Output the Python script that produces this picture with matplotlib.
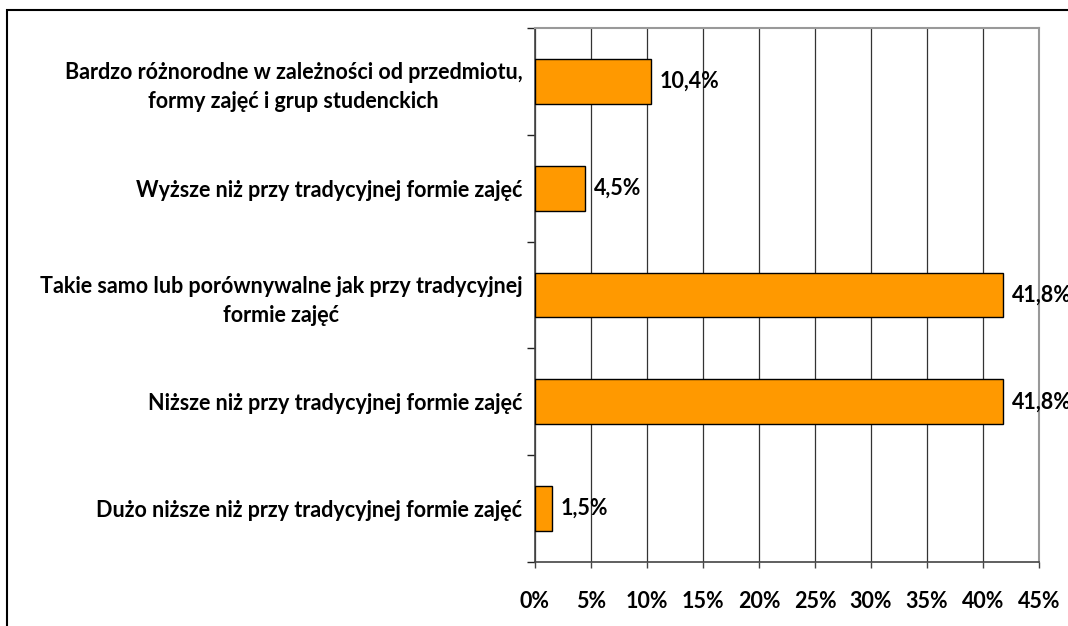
import matplotlib
matplotlib.use("Agg")
import matplotlib.pyplot as plt
from matplotlib.patches import Rectangle
import numpy as np

# categories bottom -> top
categories = [
    "Dużo niższe niż przy tradycyjnej formie zajęć",
    "Niższe niż przy tradycyjnej formie zajęć",
    "Takie samo lub porównywalne jak przy tradycyjnej\nformie zajęć",
    "Wyższe niż przy tradycyjnej formie zajęć",
    "Bardzo różnorodne w zależności od przedmiotu,\nformy zajęć i grup studenckich",
]
values = [1.5, 41.8, 41.8, 4.5, 10.4]
value_labels = ["1,5%", "41,8%", "41,8%", "4,5%", "10,4%"]
xticks = [0, 5, 10, 15, 20, 25, 30, 35, 40, 45]

plt.rcParams['font.family'] = ['Lato', 'DejaVu Sans']
FS = 15.5

fig = plt.figure(figsize=(10.68, 6.26), dpi=100)
ax = fig.add_axes([535 / 1068, 1 - 562 / 626, (1039 - 535) / 1068, (562 - 28) / 626])

y = np.arange(len(categories))
ax.barh(y, values, height=0.42, color="#FF9900", edgecolor="black", linewidth=1.0, zorder=3)

# value labels; the two 41,8% labels run past the right edge as in the original
for yi, v, lab in zip(y, values, value_labels):
    ax.annotate(lab, (v, yi), xytext=(6, 0), textcoords="offset points",
                va="center", ha="left", fontsize=FS, fontweight="bold", zorder=4,
                annotation_clip=False)

ax.set_xlim(0, 45)
ax.set_ylim(-0.5, len(categories) - 0.5)

ax.set_xticks(xticks)
ax.set_xticklabels([f"{t}%" for t in xticks], fontsize=FS, fontweight="bold")
ax.tick_params(axis="x", length=4, width=1, pad=17, color="#444444")

# boundary ticks as major, labels on minor ticks at centres
ax.set_yticks(np.arange(-0.5, len(categories), 1.0))
ax.set_yticklabels([])
ax.tick_params(axis="y", which="major", length=6, width=1, color="#222222")
ax.set_yticks(y, minor=True)
ax.set_yticklabels(categories, minor=True, fontsize=FS, fontweight="bold",
                   ma="center", linespacing=1.45)
ax.tick_params(axis="y", which="minor", length=0, pad=9)

ax.grid(axis="x", color="#333333", linewidth=0.9, zorder=0)
for s in ["top", "right"]:
    ax.spines[s].set_color("#999999")
    ax.spines[s].set_linewidth(1.5)
for s in ["left", "bottom"]:
    ax.spines[s].set_color("#444444")
    ax.spines[s].set_linewidth(1.2)

# outer frame of the chart area
fig.add_artist(Rectangle((7 / 1068, -0.1), 2.0, 1.1 - 10 / 626, fill=False,
                         edgecolor="black", linewidth=1.5, transform=fig.transFigure))

fig.savefig("out.png", dpi=100)
